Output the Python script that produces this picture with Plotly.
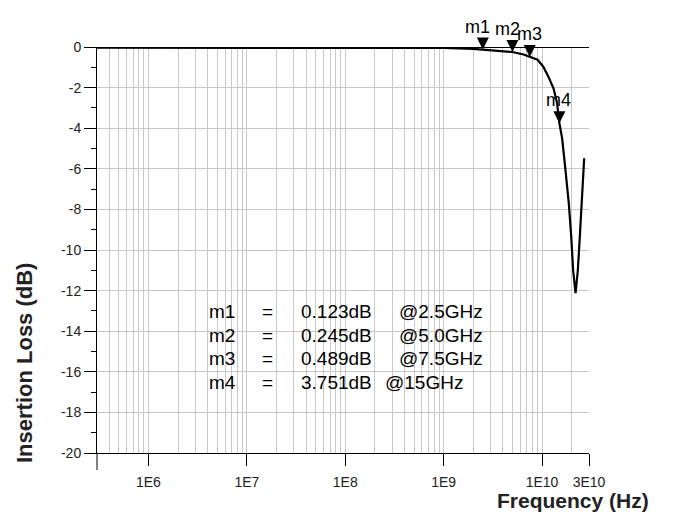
import math
import plotly.graph_objects as go

# ---------------- data ----------------
freq_hz = [3e5, 1e6, 1e7, 1e8, 5e8, 1e9, 2e9, 2.5e9, 4e9, 5e9, 6.5e9, 7.5e9,
           9e9, 1.03e10, 1.16e10, 1.31e10, 1.42e10, 1.5e10, 1.6e10, 1.73e10,
           1.87e10, 1.98e10, 2.07e10, 2.19e10, 2.31e10, 2.42e10, 2.52e10,
           2.6e10, 2.68e10]
loss_db = [-0.03, -0.03, -0.03, -0.03, -0.04, -0.05, -0.09, -0.123, -0.19,
           -0.245, -0.37, -0.489, -0.63, -0.97, -1.46, -2.05, -2.75, -3.751,
           -4.5, -6.06, -7.7, -9.34, -11.0, -12.13, -11.0, -9.34, -7.7,
           -6.06, -5.48]

marker_names = ["m1", "m2", "m3", "m4"]
marker_freq_hz = [2.5e9, 5.0e9, 7.5e9, 1.5e10]
marker_loss_db = [0.123, 0.245, 0.489, 3.751]
marker_freq_text = ["2.5GHz", "5.0GHz", "7.5GHz", "15GHz"]

x_tick_vals = [1e6, 1e7, 1e8, 1e9, 1e10, 3e10]
x_tick_text = ["1E6", "1E7", "1E8", "1E9", "1E10", "3E10"]
y_tick_vals = [0, -2, -4, -6, -8, -10, -12, -14, -16, -18, -20]
y_tick_text = ["0", "-2", "-4", "-6", "-8", "-10", "-12", "-14", "-16", "-18", "-20"]
y_minor_vals = [-1, -3, -5, -7, -9, -11, -13, -15, -17, -19]

# ---------------- layout geometry ----------------
OFF = 8                      # default page body margin
W, H = 673 - OFF, 515 - OFF  # figure size
PL, PT, PR, PB = 97, 47, 589, 453   # plot area in page pixels
L, T = PL - OFF, PT - OFF
R, B = W - (PR - OFF), H - (PB - OFF)
PW, PH = PR - PL, PB - PT
x_lo, x_hi = 3e5, 3e10


def px(xpix):
    return (xpix - PL) / PW


def py(ypix):
    return (PB - ypix) / PH


# minor log gridlines (2..9 x decade) within range
minor_grid = []
for n in range(5, 11):
    for k in range(2, 10):
        v = k * 10 ** n
        if x_lo < v <= x_hi and v not in x_tick_vals:
            minor_grid.append(v)

FONT = "Liberation Sans, Arial, sans-serif"
GRID = "#c8c8c8"

fig = go.Figure()
fig.add_trace(go.Scatter(
    x=freq_hz, y=loss_db, mode="lines",
    line=dict(color="black", width=2.2), hoverinfo="skip", showlegend=False))

fig.add_trace(go.Scatter(
    x=marker_freq_hz, y=[-v for v in marker_loss_db], mode="markers",
    marker=dict(symbol="arrow-down", size=12, color="black",
                line=dict(width=0)),
    cliponaxis=False, showlegend=False, hoverinfo="skip"))

annotations = []
label_xshift = [-5, -5, 0, -1]
for name, f, v, dx in zip(marker_names, marker_freq_hz, marker_loss_db, label_xshift):
    annotations.append(dict(
        x=math.log10(f), y=-v, xref="x", yref="y", text=name, showarrow=False,
        xanchor="center", yanchor="bottom", xshift=dx, yshift=11,
        font=dict(family=FONT, size=18, color="black")))

# marker readout table
row_y = [312, 335, 358, 382]
freq_left = [397, 397, 397, 383]
for i, (name, v, ft) in enumerate(zip(marker_names, marker_loss_db, marker_freq_text)):
    yy = py(row_y[i])
    common = dict(xref="paper", yref="paper", y=yy, yanchor="middle",
                  showarrow=False, font=dict(family=FONT, size=19, color="black"))
    annotations.append(dict(x=px(207), xanchor="left", text=name, **common))
    annotations.append(dict(x=px(267), xanchor="center", text="=", **common))
    annotations.append(dict(x=px(374), xanchor="right", text=f"{v:.3f}dB", **common))
    annotations.append(dict(x=px(freq_left[i]), xanchor="left", text="@" + ft, **common))

# axis titles
annotations.append(dict(
    x=px(24), y=py(363), xref="paper", yref="paper", text="<b>Insertion Loss (dB)</b>",
    textangle=-90, showarrow=False, xanchor="center", yanchor="middle",
    font=dict(family=FONT, size=22, color="#222")))
annotations.append(dict(
    x=px(573), y=py(500), xref="paper", yref="paper", text="<b>Frequency (Hz)</b>",
    showarrow=False, xanchor="center", yanchor="middle",
    font=dict(family=FONT, size=21, color="#222")))

fig.update_layout(
    width=W, height=H,
    margin=dict(l=L, r=R, t=T, b=B, pad=0),
    paper_bgcolor="white", plot_bgcolor="white",
    showlegend=False,
    annotations=annotations,
    shapes=[dict(type="line", xref="paper", yref="paper", x0=0, x1=0,
                 y0=0, y1=-17 / PH, line=dict(color="black", width=1))],
    xaxis=dict(
        type="log", range=[math.log10(x_lo), math.log10(x_hi)],
        tickmode="array", tickvals=x_tick_vals, ticktext=x_tick_text,
        ticks="outside", ticklen=12, tickwidth=1, tickcolor="black",
        ticklabelstandoff=4,
        showgrid=True, gridcolor=GRID, gridwidth=1,
        showline=True, linecolor="black", linewidth=1, zeroline=False,
        tickfont=dict(family=FONT, size=14, color="#222"),
        minor=dict(tickmode="array", tickvals=minor_grid, showgrid=True,
                   gridcolor=GRID, gridwidth=1, ticks=""),
    ),
    yaxis=dict(
        range=[-20, 0],
        tickmode="array", tickvals=y_tick_vals, ticktext=y_tick_text,
        ticks="outside", ticklen=12, tickwidth=1, tickcolor="black",
        showgrid=True, gridcolor=GRID, gridwidth=1,
        showline=True, linecolor="black", linewidth=1,
        zeroline=True, zerolinecolor="black", zerolinewidth=1.2,
        tickfont=dict(family=FONT, size=14, color="#222"),
        minor=dict(tickmode="array", tickvals=y_minor_vals, ticks="outside",
                   ticklen=5, tickwidth=1, tickcolor="black", showgrid=False),
    ),
)

fig.write_html("out.html")
